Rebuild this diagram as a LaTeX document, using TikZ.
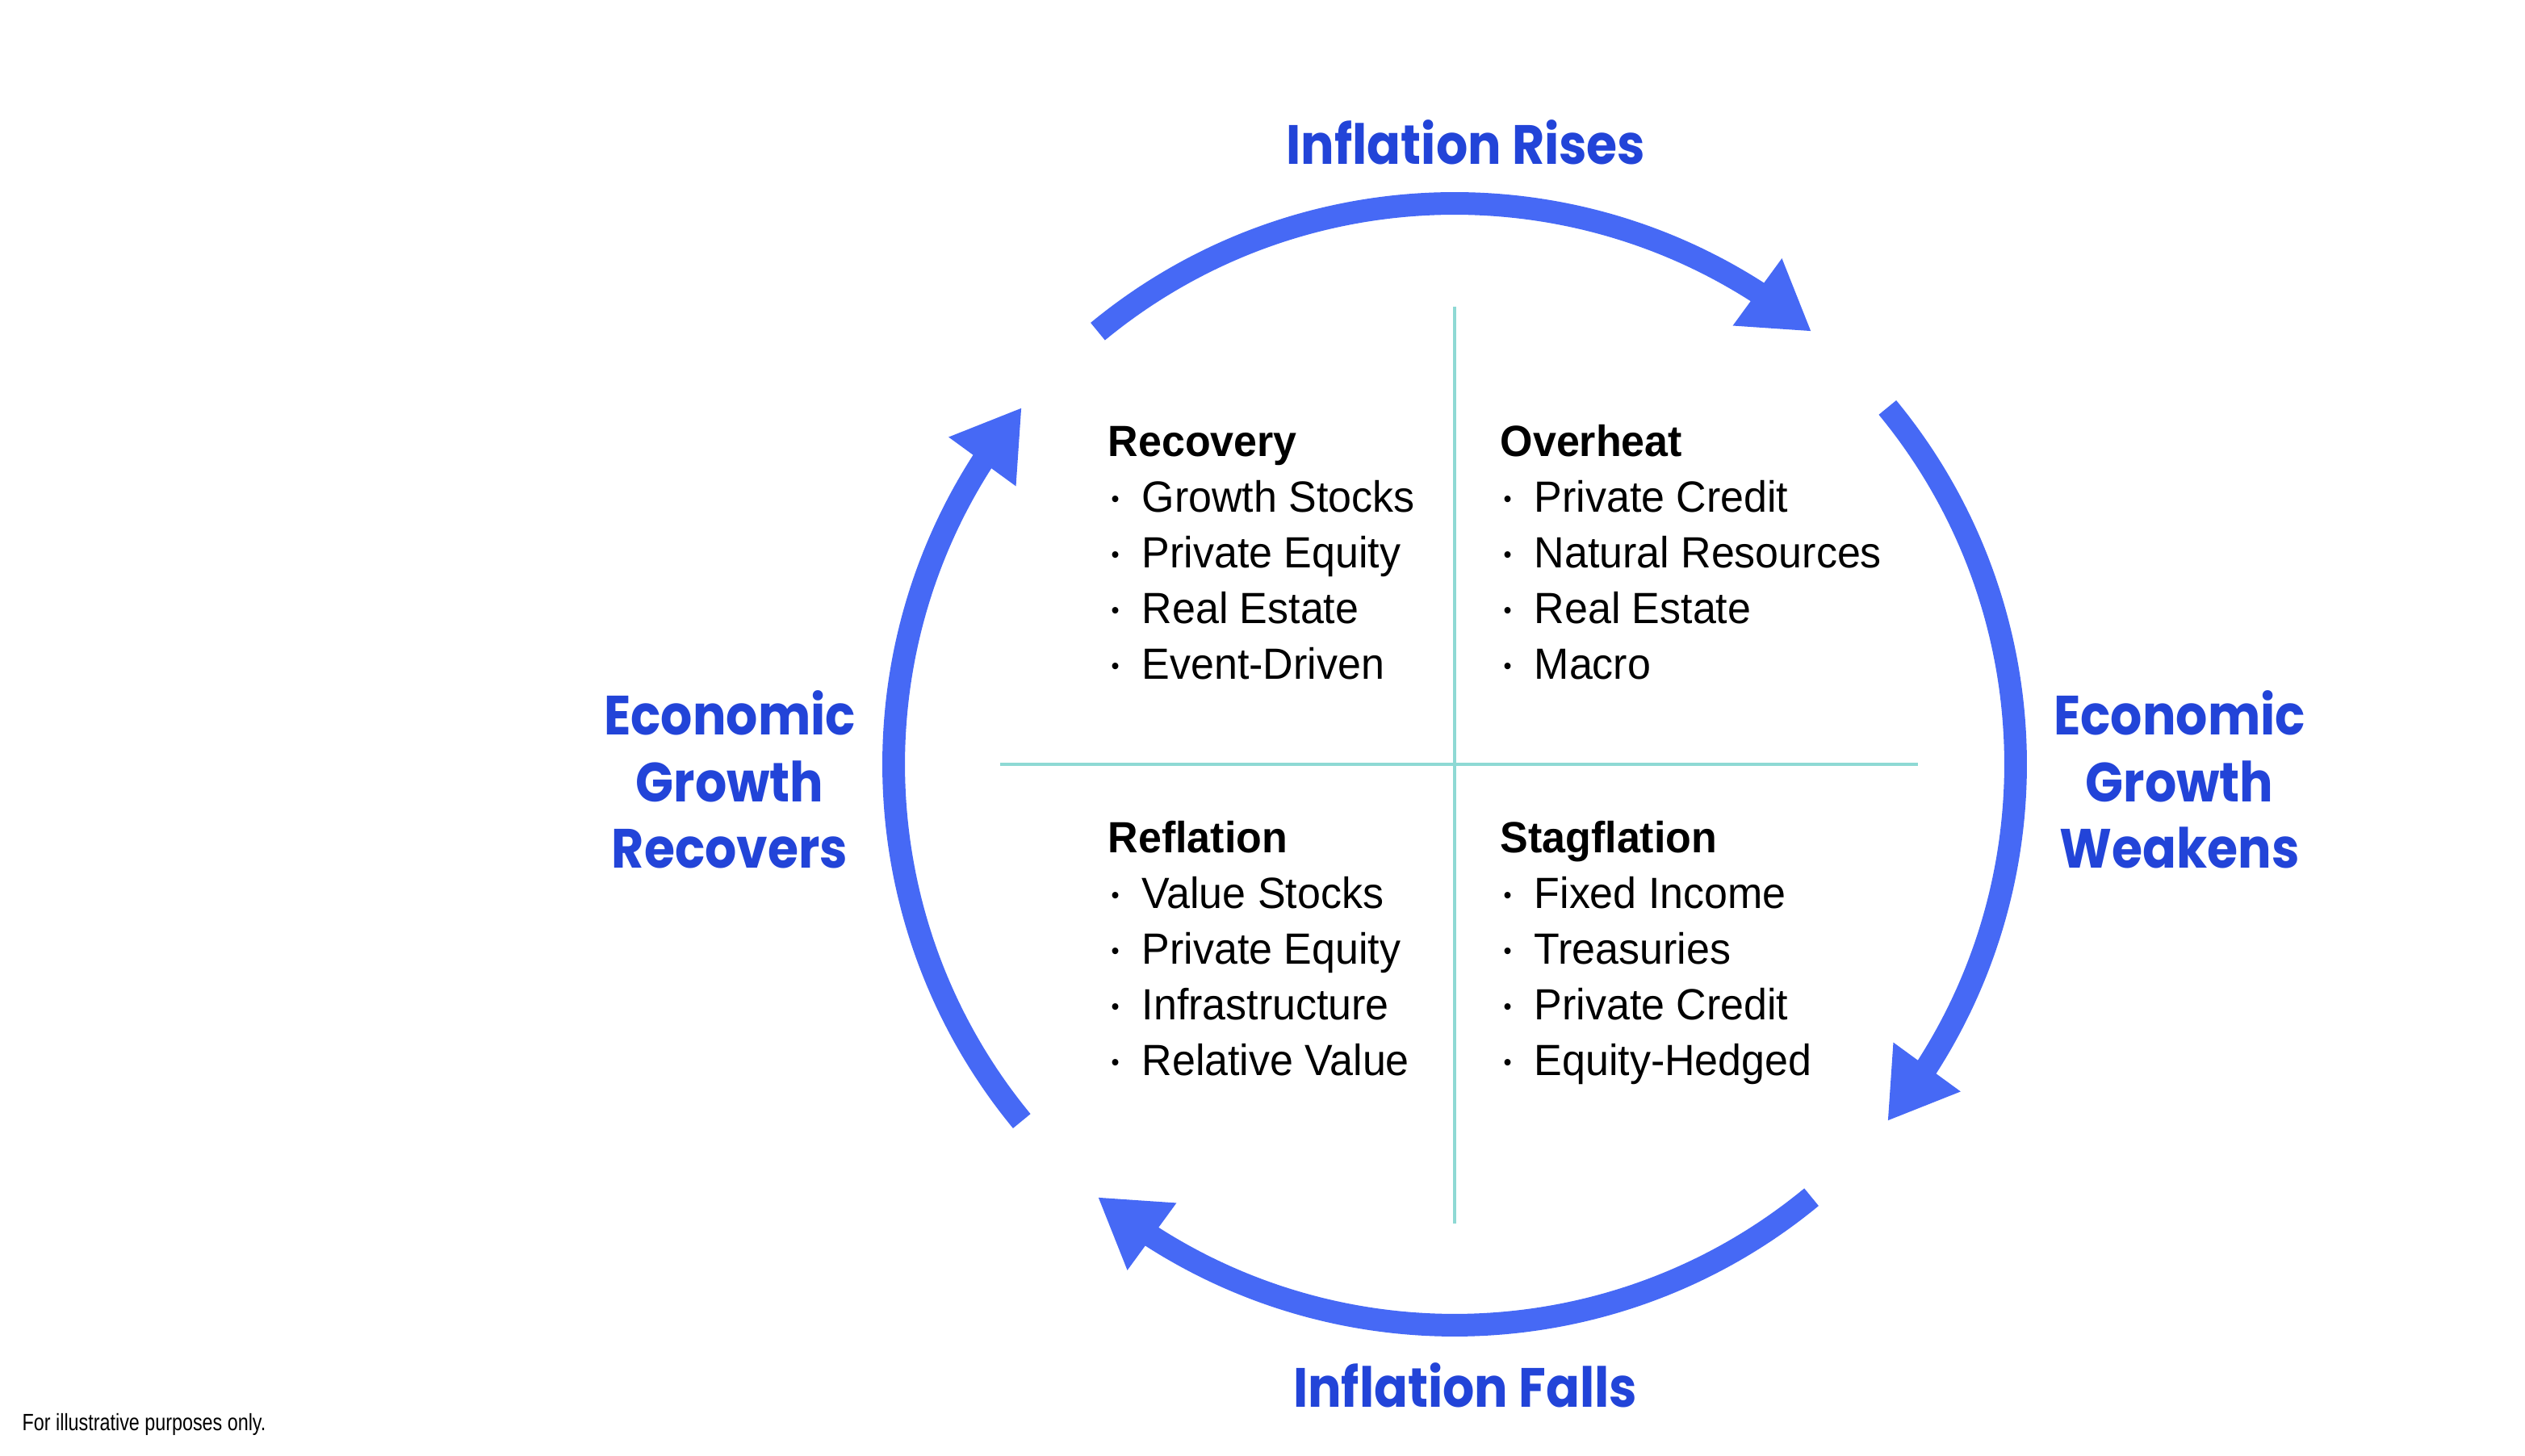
\documentclass[tikz,border=0pt]{standalone}
\usepackage{fontspec}
\setmainfont[FakeStretch=0.96]{Liberation Sans}
\newfontfamily\phasefont[FakeStretch=0.9]{Poppins}
\newfontfamily\notefont[FakeStretch=0.8]{Liberation Sans}
\usetikzlibrary{arrows.meta, bending}
\definecolor{cycleblue}{HTML}{4669F5}
\definecolor{phaseblue}{HTML}{2244D8}
\definecolor{axisteal}{HTML}{8ED9D4}
\tikzstyle{cyc}   = [draw=cycleblue, line width=0.28cm, -{Triangle[width=0.97cm, length=0.83cm]}]
\tikzstyle{axis}  = [draw=axisteal, line width=0.04cm]
\tikzstyle{phase} = [phaseblue, font=\phasefont\bfseries\fontsize{19.5}{23.6}\selectfont, align=center, anchor=base, inner sep=0]
\tikzstyle{quad}  = [font=\fontsize{15.4}{19.7}\selectfont, align=left, anchor=base west, inner sep=0]
\tikzstyle{note}  = [font=\notefont\fontsize{8.3}{10}\selectfont, anchor=base west, inner sep=0]
\newcommand{\qb}{\makebox[0.42cm][l]{\hspace{0.04cm}\raisebox{0.06cm}{\fontsize{8.5}{8.5}\selectfont\textbullet}}}

\begin{document}
\begin{tikzpicture}[]
\useasboundingbox (0,0) rectangle (31.28,18.04);

% centre and axis ends
\coordinate (C) at (18.02, 8.57);
\coordinate (N) at (18.02, 14.24);
\coordinate (S) at (18.02,  2.88);
\coordinate (W) at (12.39,  8.57);
\coordinate (E) at (23.76,  8.57);

%  axes
\path [axis] (N) -- (S);
\path [axis] (W) -- (E);

%  cycle arrows
\path [cyc] ([shift=( 129.5:6.95)]C) arc [start angle= 129.5, end angle=  50.5, radius=6.95];
\path [cyc] ([shift=(  39.5:6.95)]C) arc [start angle=  39.5, end angle= -39.5, radius=6.95];
\path [cyc] ([shift=( -50.5:6.95)]C) arc [start angle= -50.5, end angle=-129.5, radius=6.95];
\path [cyc] ([shift=(-140.5:6.95)]C) arc [start angle=-140.5, end angle=-219.5, radius=6.95];

% phase labels (base = last line)
\node [phase] at (18.16, 16.00) (rises)   {Inflation Rises};
\node [phase] at (18.15,  0.60) (falls)   {Inflation Falls};
\node [phase] at ( 9.04,  7.28) (recover) {Economic\\Growth\\Recovers};
\node [phase] at (27.00,  7.28) (weaken)  {Economic\\Growth\\Weakens};

% quadrants (base = last line)
\node [quad] at (13.72,  9.62) (recovery) {\textbf{Recovery}\\\qb Growth Stocks\\\qb Private Equity\\\qb Real Estate\\\qb Event-Driven};
\node [quad] at (18.58,  9.62) (overheat) {\textbf{Overheat}\\\qb Private Credit\\\qb Natural Resources\\\qb Real Estate\\\qb Macro};
\node [quad] at (13.72,  4.71) (reflation) {\textbf{Reflation}\\\qb Value Stocks\\\qb Private Equity\\\qb Infrastructure\\\qb Relative Value};
\node [quad] at (18.58,  4.71) (stagflation) {\textbf{Stagflation}\\\qb Fixed Income\\\qb Treasuries\\\qb Private Credit\\\qb Equity-Hedged};

\node [note] at ( 0.27,  0.31) (note) {For illustrative purposes only.};

\end{tikzpicture}
\end{document}
